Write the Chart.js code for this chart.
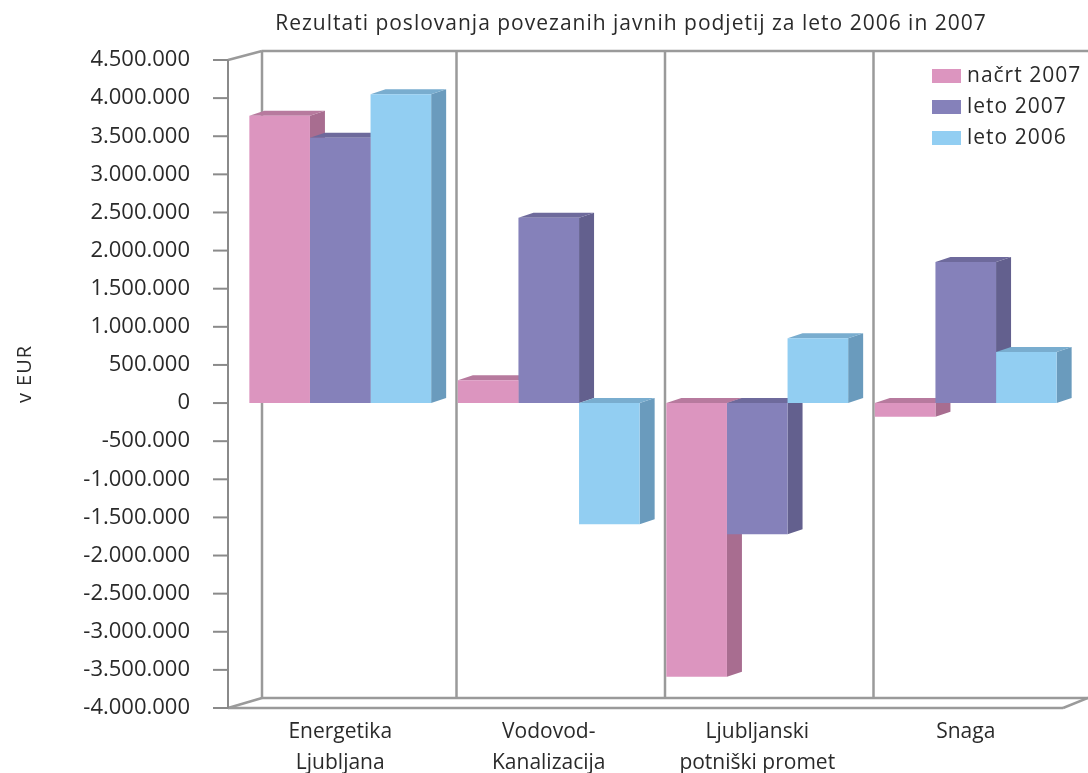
<!DOCTYPE html>
<html>
<head>
<meta charset="utf-8">
<title>Rezultati poslovanja povezanih javnih podjetij</title>
<script src="https://cdn.jsdelivr.net/npm/chart.js@4.4.0/dist/chart.umd.min.js"></script>
<style>
  html, body { margin: 0; padding: 0; background: #fff; }
  canvas { display: block; }
</style>
</head>
<body>
<canvas id="chart" width="1088" height="773"></canvas>
<script>
// Chart data (in EUR)
const chartTitle = 'Rezultati poslovanja povezanih javnih podjetij za leto 2006 in 2007';
const yAxisTitle = 'v EUR';
const categories = [['Energetika', 'Ljubljana'], ['Vodovod-', 'Kanalizacija'], ['Ljubljanski', 'potniški promet'], ['Snaga']];
const seriesNames = ['načrt 2007', 'leto 2007', 'leto 2006'];
const nacrt2007 = [3770000, 300000, -3590000, -180000];
const leto2007 = [3480000, 2430000, -1720000, 1850000];
const leto2006 = [4050000, -1590000, 850000, 670000];
const yMin = -4000000;
const yMax = 4500000;
const yStep = 500000;

// Colours: front face, side face, top face
const frontColors = ['#dc95bf', '#8581ba', '#92cef2'];
const sideColors = ['#a86d90', '#63608e', '#6a9bbd'];
const topColors = ['#b77a9e', '#6e6a9c', '#79adcf'];

const FONT = "'Open Sans', 'Noto Sans', sans-serif";
const TEXT_COLOR = '#2a2a2a';
const WALL_COLOR = '#9a9a9a';

// depth of bars and of the chart box
const BAR_DX = 15, BAR_DY = -5;
const WALL_DX = 34, WALL_DY = -10;

function formatEUR(v) {
  const s = String(Math.abs(v)).replace(/\B(?=(\d{3})+(?!\d))/g, '.');
  return (v < 0 ? '-' : '') + s;
}

// Back wall, floor and the 3D sides/tops of the bars (fronts are drawn by Chart.js)
const threeD = {
  id: 'threeD',
  beforeDatasetsDraw(chart) {
    const ctx = chart.ctx;
    const area = chart.chartArea;
    const xs = chart.scales.x;
    const axisX = area.left - 8;

    ctx.save();
    ctx.strokeStyle = WALL_COLOR;
    ctx.lineWidth = 2.5;

    const backTop = area.top + WALL_DY + 1;
    const backBottom = area.bottom + WALL_DY;
    const line = (x1, y1, x2, y2) => {
      ctx.beginPath(); ctx.moveTo(x1, y1); ctx.lineTo(x2, y2); ctx.stroke();
    };

    // side wall edges
    line(axisX, area.top, axisX + WALL_DX, backTop);
    line(axisX, area.bottom, axisX + WALL_DX, backBottom);
    // back wall
    line(axisX + WALL_DX, backTop, chart.width, backTop);
    line(axisX + WALL_DX, backTop, axisX + WALL_DX, backBottom);
    for (let i = 1; i < categories.length; i++) {
      const bx = (xs.getPixelForValue(i - 1) + xs.getPixelForValue(i)) / 2 + 12;
      line(bx, backTop, bx, backBottom);
    }
    // floor
    line(axisX + WALL_DX, backBottom, chart.width, backBottom);
    line(axisX, area.bottom, area.right - 7, area.bottom);
    line(area.right - 7, area.bottom, chart.width, backBottom);

    // front axis with tick marks
    ctx.strokeStyle = '#8a8a8a';
    ctx.lineWidth = 2;
    line(axisX, area.top, axisX, area.bottom);
    chart.scales.y.ticks.forEach(t => {
      const ty = chart.scales.y.getPixelForValue(t.value);
      line(axisX - 15, ty, axisX, ty);
    });

    // bar sides and tops, left to right
    const items = [];
    chart.data.datasets.forEach((ds, di) => {
      chart.getDatasetMeta(di).data.forEach(bar => items.push({ bar, di }));
    });
    items.sort((a, b) => a.bar.x - b.bar.x);
    items.forEach(({ bar, di }) => {
      const { x, y, base, width } = bar.getProps(['x', 'y', 'base', 'width'], true);
      const left = x - width / 2, right = x + width / 2;
      const top = Math.min(y, base), bottom = Math.max(y, base);

      ctx.fillStyle = sideColors[di];
      ctx.beginPath();
      ctx.moveTo(right, top);
      ctx.lineTo(right + BAR_DX, top + BAR_DY);
      ctx.lineTo(right + BAR_DX, bottom + BAR_DY);
      ctx.lineTo(right, bottom);
      ctx.closePath();
      ctx.fill();

      ctx.fillStyle = topColors[di];
      ctx.beginPath();
      ctx.moveTo(left, top);
      ctx.lineTo(left + BAR_DX, top + BAR_DY);
      ctx.lineTo(right + BAR_DX, top + BAR_DY);
      ctx.lineTo(right, top);
      ctx.closePath();
      ctx.fill();
    });
    ctx.restore();
  }
};

// Title, axis title and legend
const labels = {
  id: 'labels',
  afterDraw(chart) {
    const ctx = chart.ctx;
    ctx.save();
    ctx.fillStyle = TEXT_COLOR;

    ctx.font = '21px ' + FONT;
    ctx.letterSpacing = '1px';
    ctx.textAlign = 'center';
    ctx.textBaseline = 'middle';
    ctx.fillText(chartTitle, 631, 24);

    ctx.save();
    ctx.translate(25, 374);
    ctx.rotate(-Math.PI / 2);
    ctx.font = '20px ' + FONT;
    ctx.letterSpacing = '1px';
    ctx.fillText(yAxisTitle, 0, 0);
    ctx.restore();

    ctx.font = '21px ' + FONT;
    ctx.letterSpacing = '1px';
    ctx.textAlign = 'left';
    chart.data.datasets.forEach((ds, i) => {
      const cy = 76 + i * 31;
      ctx.fillStyle = ds.backgroundColor;
      ctx.fillRect(932, cy - 7, 29, 14);
      ctx.fillStyle = TEXT_COLOR;
      ctx.fillText(ds.label, 967, cy);
    });
    ctx.restore();
  }
};

const ctx = document.getElementById('chart').getContext('2d');
new Chart(ctx, {
  type: 'bar',
  data: {
    labels: categories,
    datasets: [
      { label: seriesNames[0], data: nacrt2007, backgroundColor: frontColors[0] },
      { label: seriesNames[1], data: leto2007, backgroundColor: frontColors[1] },
      { label: seriesNames[2], data: leto2006, backgroundColor: frontColors[2] }
    ]
  },
  options: {
    responsive: false,
    devicePixelRatio: 1,
    animation: false,
    layout: { padding: { top: 60, right: 18, left: 0, bottom: 0 } },
    datasets: {
      bar: { categoryPercentage: 0.872, barPercentage: 1.0, borderWidth: 0 }
    },
    plugins: {
      legend: { display: false },
      title: { display: false },
      tooltip: { enabled: false }
    },
    scales: {
      x: {
        grid: { display: false, drawTicks: false },
        border: { display: false },
        ticks: {
          padding: 9,
          color: TEXT_COLOR,
          maxRotation: 0,
          autoSkip: false,
          font: { family: FONT, size: 21, lineHeight: 1.45 }
        },
        afterFit(scale) { scale.height = 65; }
      },
      y: {
        min: yMin,
        max: yMax,
        grid: { display: false, drawTicks: false },
        border: { display: false },
        ticks: {
          stepSize: yStep,
          padding: 46,
          color: TEXT_COLOR,
          font: { family: FONT, size: 22 },
          callback: v => formatEUR(v)
        },
        afterFit(scale) { scale.width = 236; }
      }
    }
  },
  plugins: [threeD, labels]
});
</script>
</body>
</html>
